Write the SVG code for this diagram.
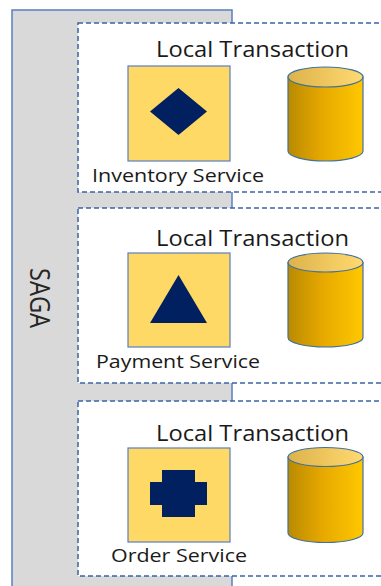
<svg xmlns="http://www.w3.org/2000/svg" width="381" height="586" viewBox="0 0 381 586">
<defs>
<linearGradient id="body" x1="0" y1="0" x2="1" y2="0">
<stop offset="0" stop-color="#B98A00"/>
<stop offset="0.45" stop-color="#E6A800"/>
<stop offset="1" stop-color="#FFC800"/>
</linearGradient>
<linearGradient id="top" x1="0" y1="0" x2="1" y2="0">
<stop offset="0" stop-color="#DDB24A"/>
<stop offset="1" stop-color="#FFDA70"/>
</linearGradient>
<style>
.panel{fill:#D9D9D9;stroke:#5A7EC0;stroke-width:1.5}
.tx{fill:#FFFFFF;stroke:#3A64A8;stroke-width:1.5;stroke-dasharray:5 3}
.svc{fill:#FFD966;stroke:#5A7EC0;stroke-width:1.2}
.icon{fill:#002060}
.conn{stroke:#8FAADC;stroke-width:1.5;fill:none}
.cylb{fill:url(#body);stroke:#41719C;stroke-width:1.2}
.cylt{fill:url(#top);stroke:#41719C;stroke-width:1.2}
.title{font-family:"Open Sans","Liberation Sans",sans-serif;font-size:22px;fill:#1A1A1A}
.lbl{font-family:"Open Sans","Liberation Sans",sans-serif;font-size:19px;fill:#1A1A1A}
.saga{font-family:"Open Sans","Liberation Sans",sans-serif;font-size:27px;fill:#262626}
</style>
</defs>
<g id="saga">
<rect class="panel" x="12" y="10" width="220" height="590"/>
<text class="saga" transform="translate(30,268) rotate(90)" textLength="60" lengthAdjust="spacingAndGlyphs">SAGA</text>
</g>
<g id="connectors">
<line class="conn" x1="230" y1="114" x2="288" y2="114"/>
<line class="conn" x1="230" y1="300" x2="288" y2="300"/>
<line class="conn" x1="230" y1="495" x2="288" y2="495"/>
</g>
<g id="tx1">
<rect class="tx" x="78" y="23" width="320" height="169"/>
<text class="title" x="156" y="56.5" textLength="193" lengthAdjust="spacingAndGlyphs">Local Transaction</text>
</g>
<g id="inventory">
<rect class="svc" x="128" y="66" width="102" height="95"/>
<polygon class="icon" points="178.5,88 207,111.5 178.5,135 150,111.5"/>
<text class="lbl" x="92" y="181.5" textLength="172" lengthAdjust="spacingAndGlyphs">Inventory Service</text>
</g>
<g id="db1">
<path class="cylb" d="M288,77 V151 A37.5,10 0 0 0 363,151 V77 Z"/>
<ellipse class="cylt" cx="325.5" cy="77" rx="37.5" ry="10"/>
</g>
<g id="tx2">
<rect class="tx" x="78" y="208" width="320" height="175"/>
<text class="title" x="156" y="246" textLength="193" lengthAdjust="spacingAndGlyphs">Local Transaction</text>
</g>
<g id="payment">
<rect class="svc" x="128" y="253" width="102" height="94"/>
<polygon class="icon" points="178.5,275 207,323 150,323"/>
<text class="lbl" x="96" y="368" textLength="164" lengthAdjust="spacingAndGlyphs">Payment Service</text>
</g>
<g id="db2">
<path class="cylb" d="M288,262.5 V337.5 A37.5,9.5 0 0 0 363,337.5 V262.5 Z"/>
<ellipse class="cylt" cx="325.5" cy="262.5" rx="37.5" ry="9.5"/>
</g>
<g id="tx3">
<rect class="tx" x="78" y="401" width="320" height="175"/>
<text class="title" x="156" y="441" textLength="193" lengthAdjust="spacingAndGlyphs">Local Transaction</text>
</g>
<g id="order">
<rect class="svc" x="128" y="448" width="102" height="94"/>
<polygon class="icon" points="162,470 195,470 195,482 207,482 207,505 195,505 195,517 162,517 162,505 150,505 150,482 162,482"/>
<text class="lbl" x="111" y="562" textLength="136" lengthAdjust="spacingAndGlyphs">Order Service</text>
</g>
<g id="db3">
<path class="cylb" d="M288,457 V533 A37.5,9.5 0 0 0 363,533 V457 Z"/>
<ellipse class="cylt" cx="325.5" cy="457" rx="37.5" ry="9.5"/>
</g>
</svg>
